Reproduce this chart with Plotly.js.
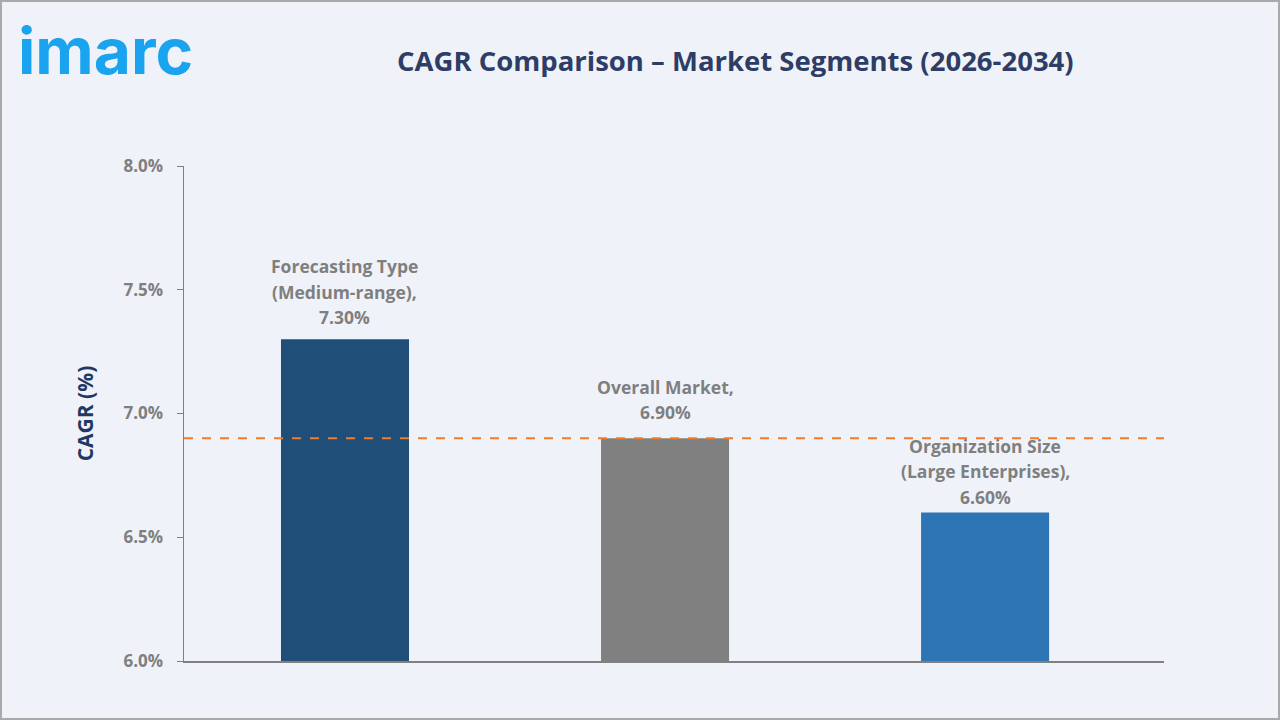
<!DOCTYPE html>
<html>
<head>
<meta charset="utf-8">
<script src="https://cdn.plot.ly/plotly-3.0.1.min.js"></script>
<style>
html,body{margin:0;padding:0;background:#eff3f9;}
#wrap{position:relative;width:1280px;height:720px;}
#chart{width:1280px;height:720px;}
#frame{position:absolute;left:0;top:0;width:1280px;height:720px;box-sizing:border-box;border:2px solid #a9a9a9;pointer-events:none;}
</style>
</head>
<body>
<div id="wrap"><div id="chart"></div><div id="frame"></div></div>
<script>
const categories = ["Forecasting Type|(Medium-range)", "Overall Market", "Organization Size|(Large Enterprises)"];
const cagrValues = [7.30, 6.90, 6.60];
const barColors = ["#1f4e79", "#808080", "#2e75b6"];
const overallMarketCagr = 6.90;
const yTickVals = [6.0, 6.5, 7.0, 7.5, 8.0];
const yTickText = ["6.0%", "6.5%", "7.0%", "7.5%", "8.0%"];

const xIdx = categories.map((c, i) => i);
const FONT = "Open Sans, Noto Sans, sans-serif";
const LABEL_GAP = [22, 26, 16];   // pixel gap between bar top and label (layout only)

const trace = {
  type: "bar",
  x: xIdx,
  y: cagrValues,
  width: 0.4,
  marker: {color: barColors},
  hoverinfo: "skip"
};

const annotations = [];
categories.forEach((c, i) => {
  const lines = c.split("|");
  lines[lines.length - 1] += ",";
  lines.push(cagrValues[i].toFixed(2) + "%");
  const n = lines.length;
  lines.forEach((ln, k) => {
    annotations.push({
      x: i, y: cagrValues[i], xref: "x", yref: "y",
      text: ln,
      showarrow: false, yanchor: "middle", xanchor: "center",
      yshift: LABEL_GAP[i] + 25.5 * (n - 1 - k),
      font: {family: FONT, size: 17.5, color: "#7f7f7f", weight: 700}
    });
  });
});

annotations.push({
  xref: "paper", yref: "paper", x: (735 - 184) / 980, y: (720 - 61 - 59) / 495,
  text: "<b>CAGR Comparison – Market Segments (2026-2034)</b>",
  showarrow: false, xanchor: "center", yanchor: "middle",
  font: {family: FONT, size: 27.5, color: "#2e3d66"}
});
annotations.push({
  xref: "paper", yref: "paper", x: (16 - 184) / 980, y: (720 - 50 - 59) / 495,
  text: "<b>imarc</b>",
  showarrow: false, xanchor: "left", yanchor: "middle",
  font: {family: "Inter, Noto Sans, sans-serif", size: 64, color: "#1aa3ee"}
});

const layout = {
  width: 1280, height: 720,
  paper_bgcolor: "rgba(0,0,0,0)",
  plot_bgcolor: "rgba(0,0,0,0)",
  margin: {l: 184, r: 116, t: 166, b: 59},
  showlegend: false,
  xaxis: {
    range: [-0.503, 2.559],
    showticklabels: false, ticks: "",
    showgrid: false, zeroline: false,
    showline: true, linecolor: "#808080", linewidth: 1.5,
    fixedrange: true
  },
  yaxis: {
    range: [6.0, 8.0],
    tickmode: "array",
    tickvals: yTickVals,
    ticktext: yTickText,
    ticks: "outside", ticklen: 6, tickcolor: "#808080", tickwidth: 1,
    showgrid: false, zeroline: false,
    showline: true, linecolor: "#808080", linewidth: 1.5,
    tickfont: {family: FONT, size: 17, color: "#7f7f7f", weight: 700},
    ticklabelstandoff: 10,
    title: {text: "<b>CAGR (%)</b>", font: {family: FONT, size: 21, color: "#1f3864"}, standoff: 24},
    fixedrange: true
  },
  shapes: [{
    type: "line", xref: "paper", yref: "y",
    x0: 0, x1: 1, y0: overallMarketCagr, y1: overallMarketCagr,
    line: {color: "#ed7d31", width: 2, dash: "dash"}
  }],
  annotations: annotations
};

Plotly.newPlot("chart", [trace], layout, {displayModeBar: false, staticPlot: true});
</script>
</body>
</html>
